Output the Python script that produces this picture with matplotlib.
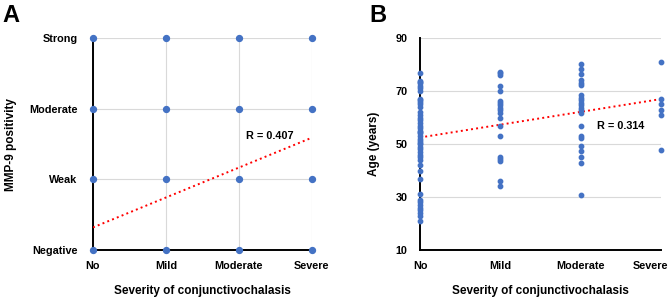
import matplotlib
matplotlib.use("Agg")
import matplotlib.pyplot as plt
import matplotlib.transforms as mtransforms
import numpy as np

plt.rcParams['font.family'] = ['Liberation Sans', 'DejaVu Sans']
plt.rcParams['font.weight'] = 'bold'

# 数据
severity = ['No', 'Mild', 'Moderate', 'Severe']
mmp9_levels = ['Negative', 'Weak', 'Moderate', 'Strong']

# A: every combination observed
fit_a = [0.32, 1.59]          # regression line at No / Severe
r_a = 'R = 0.407'

# B: ages per severity group
age_no = [77, 74, 73.5, 73, 72, 71, 70, 67, 66.5, 66, 65, 64, 62, 61, 60, 59, 58,
          57, 56, 55, 54.5, 54, 53, 52, 51, 50.5, 50, 49, 48, 47, 46, 45, 44, 42,
          40, 37, 31, 29, 28, 27, 26, 25, 24, 23, 21]
age_mild = [77.3, 76.7, 76.1, 72.0, 70.0, 66.2, 65.5, 64.7, 63.8, 63.0, 61.9, 60.0,
            57.0, 52.9, 45.0, 44.4, 43.7, 35.9, 34.0]
age_moderate = [80.2, 78.2, 76.3, 74.2, 73.1, 72.3, 68.5, 67.4, 66.6, 65.5, 64.7,
                63.8, 62.8, 61.9, 56.9, 53.2, 52.3, 49.1, 47.2, 45.3, 43.0, 30.9]
age_severe = [81.1, 67.1, 65.0, 63.0, 61.0, 47.9]
fit_b = [52.5, 67.0]
r_b = 'R = 0.314'

blue = '#4472C4'
grid_c = '#d9d9d9'
fs = 7.8

fig = plt.figure(figsize=(6.69, 2.98), dpi=100)
axA = fig.add_axes([0.139, 0.161, 0.327, 0.711])
axB = fig.add_axes([0.628, 0.161, 0.360, 0.711])

# ---- A ----
gx, gy = np.meshgrid(np.arange(4), np.arange(4))
axA.scatter(gx.ravel(), gy.ravel(), s=18, color=blue, zorder=4, clip_on=False)
axA.plot([0, 3], fit_a, color='red', linestyle=':', linewidth=1.4, zorder=3)
axA.text(2.1, 1.61, r_a, fontsize=fs, fontweight='bold', va='center')
axA.set_xlim(0, 3)
axA.set_ylim(0, 3)
axA.set_xticks(range(4))
axA.set_xticklabels(severity)
axA.set_yticks(range(4))
axA.set_yticklabels(mmp9_levels)
axA.grid(True, color=grid_c, linewidth=0.8, zorder=0)
axA.set_axisbelow(True)
axA.set_ylabel('MMP-9 positivity', fontsize=fs + 0.7, fontweight='bold', labelpad=9)

# ---- B ----
groups = [age_no, age_mild, age_moderate, age_severe]
for i, g in enumerate(groups):
    axB.scatter([i] * len(g), g, s=10, color=blue, zorder=4, clip_on=False)
axB.plot([0, 3], fit_b, color='red', linestyle=':', linewidth=1.4, zorder=3)
axB.text(2.2, 57, r_b, fontsize=fs, fontweight='bold', va='center')
axB.set_xlim(0, 3)
axB.set_ylim(10, 90)
axB.set_xticks(range(4))
axB.set_xticklabels(severity)
axB.set_yticks([10, 30, 50, 70, 90])
axB.yaxis.grid(True, color=grid_c, linewidth=0.8, zorder=0)
axB.set_axisbelow(True)
axB.set_ylabel('Age (years)', fontsize=fs + 0.7, fontweight='bold', labelpad=11)

for ax in (axA, axB):
    for s in ('top', 'right'):
        ax.spines[s].set_visible(False)
    for s in ('left', 'bottom'):
        ax.spines[s].set_linewidth(1.4)
        ax.spines[s].set_color('black')
        ax.spines[s].set_zorder(2)
    ax.tick_params(length=0, labelsize=fs)
    ax.tick_params(axis='x', pad=8)
    for lab in ax.get_xticklabels() + ax.get_yticklabels():
        lab.set_fontweight('bold')
    ax.set_xlabel('Severity of conjunctivochalasis', fontsize=fs + 0.7,
                  fontweight='bold', labelpad=10)
axA.tick_params(axis='y', pad=11)
axB.tick_params(axis='y', pad=9)

# last label of B sits a little left so it stays inside the figure
lab = axB.get_xticklabels()[-1]
lab.set_transform(lab.get_transform() +
                  mtransforms.ScaledTranslation(-11 / 100, 0, fig.dpi_scale_trans))

fig.text(0.004, 0.985, 'A', fontsize=17, fontweight='bold', va='top')
fig.text(0.552, 0.985, 'B', fontsize=17, fontweight='bold', va='top')

plt.savefig('out.png', dpi=100)
plt.close()
